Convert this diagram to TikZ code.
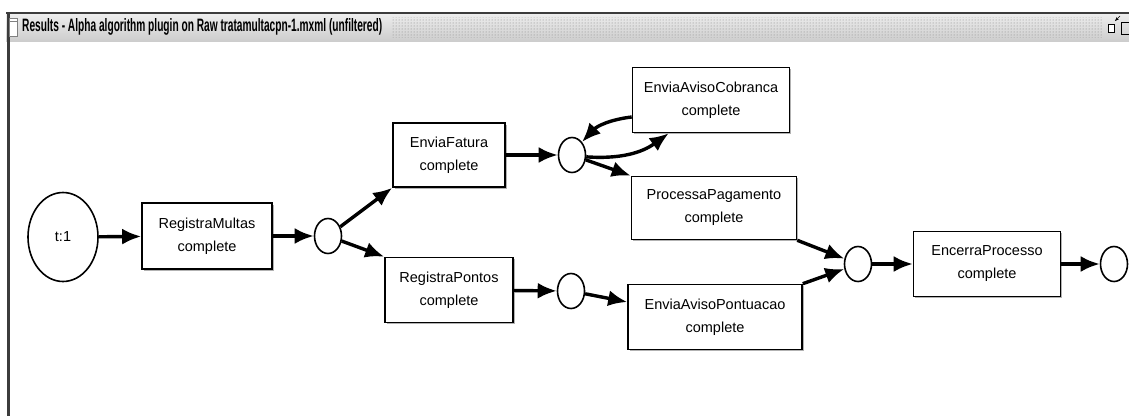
\documentclass[tikz,border=0pt]{standalone}
\usepackage{fontspec}
\setmainfont{Liberation Sans}
\usetikzlibrary{arrows.meta,shapes.geometric,shadows,patterns}
\definecolor{barlight}{RGB}{238,238,238}
\definecolor{bardark}{RGB}{205,205,205}
\definecolor{framegray}{RGB}{60,60,60}
\tikzset{place/.style={ellipse,draw,line width=1.6pt,minimum width=27pt,minimum height=35pt,inner sep=0pt},
 trans/.style={rectangle,draw,line width=1.6pt,fill=white,align=center,
  font=\fontsize{14.5}{23}\selectfont,
  drop shadow={shadow xshift=1.5pt,shadow yshift=-1.5pt,fill=gray!60,opacity=1}},
 arc/.style={-{Latex[length=19pt,width=16pt]},line width=3.4pt}}

\begin{document}
\begin{tikzpicture}[x=1pt,y=-1pt]
\useasboundingbox (0,0) rectangle (1129,416);
\fill[white] (0,0) rectangle (1129,416);
% window frame
\shade[top color=barlight,bottom color=bardark] (6,13) rectangle (1129,41);
\draw[framegray,line width=1.2pt] (6,13) -- (1129,13);
\fill[pattern=dots,pattern color=gray] (392,17) rectangle (1103,37);
\draw[framegray,line width=3pt] (8,13) -- (8,416);
\draw[gray,fill=white] (9,18) rectangle (17,36);
\draw[gray] (9,21) -- (17,21);
\node[anchor=west,inner sep=0pt] (title) at (22,27)
 {\resizebox{360pt}{13pt}{\bfseries Results - Alpha algorithm plugin on Raw tratamultacpn-1.mxml (unfiltered)}};
\draw[line width=1pt,fill=white] (1108,24) rectangle (1114,32);
\draw[-{Stealth[length=4pt]}] (1120,16) -- (1115,21);
\draw[line width=1pt] (1121,22) rectangle (1131,34);

\node[place,minimum width=70pt,minimum height=89pt,font=\fontsize{14.5}{17}\selectfont] (start) at (63,237) {t:1};
\node[trans,minimum width=130pt,minimum height=66pt] (regmultas) at (207,236) {RegistraMultas\\complete};
\node[place] (p1) at (328,236) {};
\node[trans,minimum width=112pt,minimum height=64pt] (enviafat) at (449,155) {EnviaFatura\\complete};
\node[trans,minimum width=128pt,minimum height=65pt] (regpontos) at (449,290) {RegistraPontos\\complete};
\node[place] (p2) at (572,155) {};
\node[place] (p3) at (571,291) {};
\node[trans,minimum width=157pt,minimum height=65pt] (aviscob) at (711,100) {EnviaAvisoCobranca\\complete};
\node[trans,minimum width=165pt,minimum height=63pt] (procpag) at (714,208) {ProcessaPagamento\\complete};
\node[trans,minimum width=174pt,minimum height=65pt] (avispont) at (715,317) {EnviaAvisoPontuacao\\complete};
\node[place] (p4) at (858,264) {};
\node[trans,minimum width=147pt,minimum height=65pt] (encerra) at (987,264) {EncerraProcesso\\complete};
\node[place] (p5) at (1114,264) {};

\draw[arc] (start) -- (regmultas);
\draw[arc] (regmultas) -- (p1);
\draw[arc] (p1) -- (enviafat.south west);
\draw[arc] (p1) -- (regpontos.north west);
\draw[arc] (enviafat) -- (p2);
\draw[arc] (regpontos) -- (p3);
\draw[arc] (p3) -- ([yshift=15pt]avispont.west);
\draw[arc] (p2) to[bend right=20] ([xshift=37pt]aviscob.south west);
\draw[arc] ([yshift=-17pt]aviscob.west) to[bend right=20] (p2);
\draw[arc] (p2) -- (procpag.north west);
\draw[arc] (procpag.south east) -- (p4);
\draw[arc] (avispont.north east) -- (p4);
\draw[arc] (p4) -- (encerra);
\draw[arc] (encerra) -- (p5);
\end{tikzpicture}
\end{document}
